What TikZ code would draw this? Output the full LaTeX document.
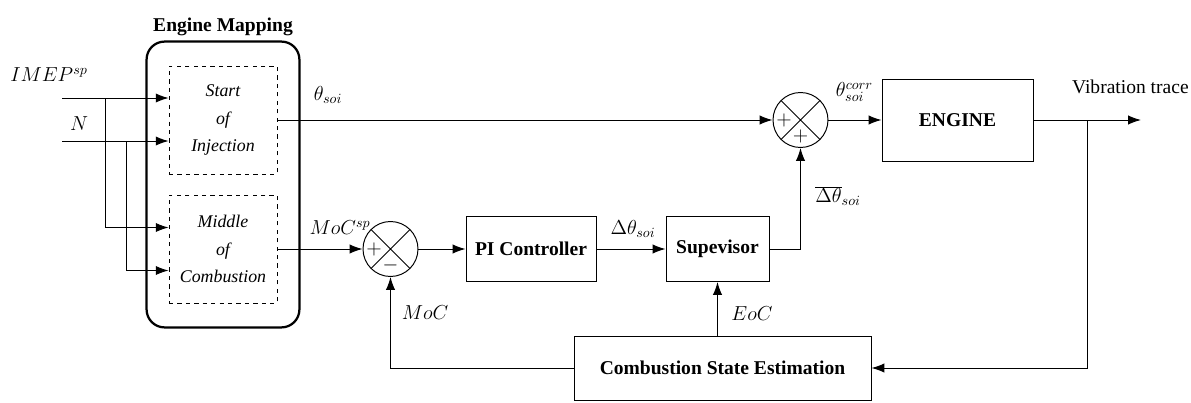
\documentclass[tikz,border=0pt]{standalone}
\usepackage{fontspec}
\newfontfamily\tnr{Liberation Serif}
\usepackage{tikz}
\usetikzlibrary{arrows.meta,positioning,fit,backgrounds}
\tikzset{bloc/.style={draw,line width=0.7pt,align=center,font=\tnr\fontsize{13.9}{16}\selectfont\bfseries,minimum height=1.625cm},
mapbloc/.style={draw,dashed,line width=0.6pt,align=center,minimum width=2.7cm,minimum height=2.7cm,font=\tnr\fontsize{12.7}{19.6}\selectfont\itshape},
flux/.style={-{Latex[length=3.2mm,width=2.3mm]},line width=0.7pt},
sommateur/.style={draw,circle,line width=0.7pt,minimum size=1.375cm,inner sep=0pt,path picture={\draw[line width=0.6pt] (path picture bounding box.north west)--(path picture bounding box.south east) (path picture bounding box.north east)--(path picture bounding box.south west);}},
signe/.style={font=\fontsize{14.5}{16}\selectfont,inner sep=0pt},
note/.style={font=\fontsize{13.9}{16}\selectfont,inner sep=1pt}}
\begin{document}
\begin{tikzpicture}
\useasboundingbox (0,0) rectangle (29.775,-10.075);
\node[mapbloc] (soi) at (5.575,-3.0) {Start\\of\\Injection};
\node[mapbloc] (moc) at (5.575,-6.225) {Middle\\of\\Combustion};
\node[sommateur] (sum1) at (9.7625,-6.225) {};
\node[sommateur] (sum2) at (20.0125,-3.0) {};
\node[bloc,minimum width=3.25cm] (pi) at (13.275,-6.225) {PI Controller};
\node[bloc,minimum width=2.575cm] (sup) at (17.9375,-6.225) {Supevisor};
\node[bloc,minimum width=3.775cm,minimum height=2.05cm] (engine) at (23.9375,-3.0) {ENGINE};
\node[bloc,minimum width=7.425cm,minimum height=1.6cm] (cse) at (18.0625,-9.2) {Combustion State Estimation};
\node[signe] (p1) at ([xshift=-0.41cm]sum1.center) {$+$};
\node[signe] (m1) at ([yshift=-0.41cm]sum1.center) {$-$};
\node[signe] (p2) at ([xshift=-0.41cm]sum2.center) {$+$};
\node[signe] (p3) at ([yshift=-0.41cm]sum2.center) {$+$};
% entrees
\coordinate (imep) at (1.55,-2.45);
\coordinate (n) at (1.55,-3.525);
\coordinate (bimep) at (2.625,-2.45);
\coordinate (bn) at (3.15,-3.525);
\draw[flux] (imep) -- (imep -| soi.west);
\draw[flux] (n) -- (n -| soi.west);
\draw[flux] (bimep) |- ([yshift=0.5375cm]moc.west);
\draw[flux] (bn) |- ([yshift=-0.5375cm]moc.west);
% chaine
\draw[flux] (soi.east) -- (sum2.west);
\draw[flux] (moc.east) -- (sum1.west);
\draw[flux] (sum1.east) -- (pi.west);
\draw[flux] (pi.east) -- (sup.west);
\draw[flux] (sup.east) -| (sum2.south);
\draw[flux] (sum2.east) -- (engine.west);
\coordinate (vib) at (28.525,-3.0);
\coordinate (br) at (27.175,-3.0);
\draw[flux] (engine.east) -- (vib);
\draw[flux] (br) |- (cse.east);
\draw[flux] (cse.west) -| (sum1.south);
\draw[flux] (cse.north -| sup.south) -- (sup.south);
% etiquettes
\node[note] (limep) at (1.225,-1.875) {$IMEP^{sp}$};
\node[note] (ln) at (1.975,-3.1) {$N$};
\node[note] (lsoi) at (8.2,-2.375) {$\theta_{soi}$};
\node[note] (lmocsp) at (8.5,-5.7) {$MoC^{sp}$};
\node[note] (lmoc) at (10.625,-7.825) {$MoC$};
\node[note] (ldelta) at (15.825,-5.725) {$\Delta\theta_{soi}$};
\node[note] (leoc) at (18.8,-7.85) {$EoC$};
\node[note] (ldeltabar) at (20.95,-4.9) {$\overline{\Delta\theta}_{soi}$};
\node[note,inner sep=0pt] (lcorr) at (21.36,-2.3) {$\theta_{soi}^{corr}$};
\node[note,font=\tnr\fontsize{13.9}{16}\selectfont] (lvib) at (28.26,-2.175) {Vibration trace};
\begin{scope}[on background layer]
\node[draw,line width=1.6pt,rounded corners=0.45cm,fit=(soi)(moc),inner xsep=0.55cm,inner ysep=0.6cm,label={[font=\tnr\fontsize{13.9}{16}\selectfont\bfseries]above:Engine Mapping}] (mapping) {};
\end{scope}
\end{tikzpicture}
\end{document}
